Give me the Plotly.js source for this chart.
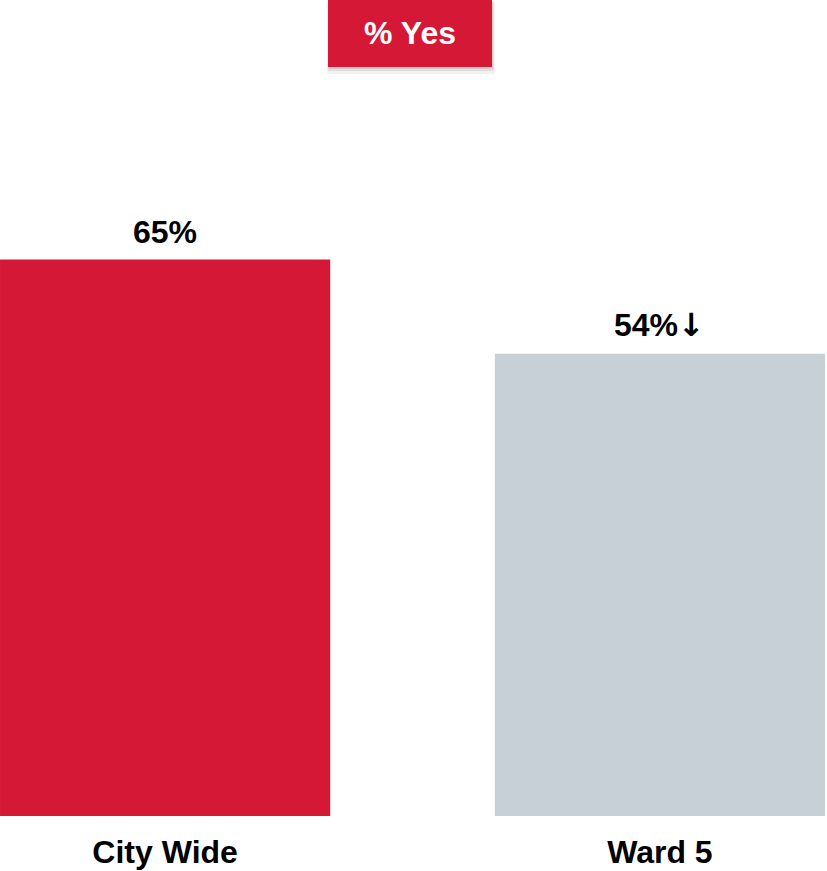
<!DOCTYPE html>
<html>
<head>
<meta charset="utf-8">
<script src="https://cdn.plot.ly/plotly-3.0.1.min.js"></script>
<style>html,body{margin:0;padding:0;background:#fff;}#chart{width:827px;height:871px;}</style>
</head>
<body>
<div id="chart"></div>
<script>
const categories = ['City Wide', 'Ward 5'];
const values = [65, 54];
const trendMarks = ['', '\u2193'];
const barColors = ['#D51835', '#C8D0D7'];
const chartTitle = '% Yes';

const FONT = 'Liberation Sans, Arial, Helvetica, sans-serif';

const trace = {
  type: 'bar',
  x: categories,
  y: values,
  width: 0.6673,
  marker: { color: barColors, line: { width: 0 } },
  hoverinfo: 'none'
};

const annotations = categories.map((c, i) => ({
  x: c, y: values[i], xref: 'x', yref: 'y',
  text: values[i] + '%' + (trendMarks[i] ? '<span style="font-family:DejaVu Sans;font-weight:bold">' + trendMarks[i] + '</span>' : ''),
  showarrow: false, xanchor: 'center', yanchor: 'bottom', yshift: 8,
  font: { family: FONT, size: 32, color: '#000', weight: 'bold' }
}));

const px = v => v / 825;            // paper x from pixel
const py = v => 1 - v / 816;        // paper y from pixel

const shapes = [
  { type: 'rect', xref: 'paper', yref: 'paper', x0: px(327), x1: px(495), y0: py(74), y1: py(3), fillcolor: 'rgba(0,0,0,0.05)', line: { width: 0 }, layer: 'above' },
  { type: 'rect', xref: 'paper', yref: 'paper', x0: px(328), x1: px(494), y0: py(71), y1: py(2), fillcolor: 'rgba(0,0,0,0.08)', line: { width: 0 }, layer: 'above' },
  { type: 'rect', xref: 'paper', yref: 'paper', x0: px(329), x1: px(493), y0: py(69), y1: py(1), fillcolor: 'rgba(0,0,0,0.08)', line: { width: 0 }, layer: 'above' },
  { type: 'rect', xref: 'paper', yref: 'paper', x0: px(328), x1: px(492), y0: py(67), y1: py(0), fillcolor: '#D51835', line: { width: 0 }, layer: 'above' }
];

const layout = {
  width: 827, height: 871,
  margin: { l: 0, r: 2, t: 0, b: 55, pad: 0 },
  paper_bgcolor: '#fff', plot_bgcolor: '#fff',
  showlegend: false,
  title: {
    text: chartTitle, x: 410 / 827, xanchor: 'center', y: 1 - 33 / 871, yanchor: 'middle',
    xref: 'container', yref: 'container',
    font: { family: FONT, size: 32, color: '#fff', weight: 'bold' }
  },
  xaxis: {
    type: 'category', range: [-0.3337, 1.3337], showgrid: false, zeroline: false, showline: false,
    ticks: '', ticklabelstandoff: 14,
    tickfont: { family: FONT, size: 32, color: '#000', weight: 'bold' }, fixedrange: true
  },
  yaxis: {
    range: [0, 95.33], visible: false, showgrid: false, zeroline: false, fixedrange: true
  },
  annotations: annotations,
  shapes: shapes
};

Plotly.newPlot('chart', [trace], layout, { displayModeBar: false, staticPlot: true });
</script>
</body>
</html>
